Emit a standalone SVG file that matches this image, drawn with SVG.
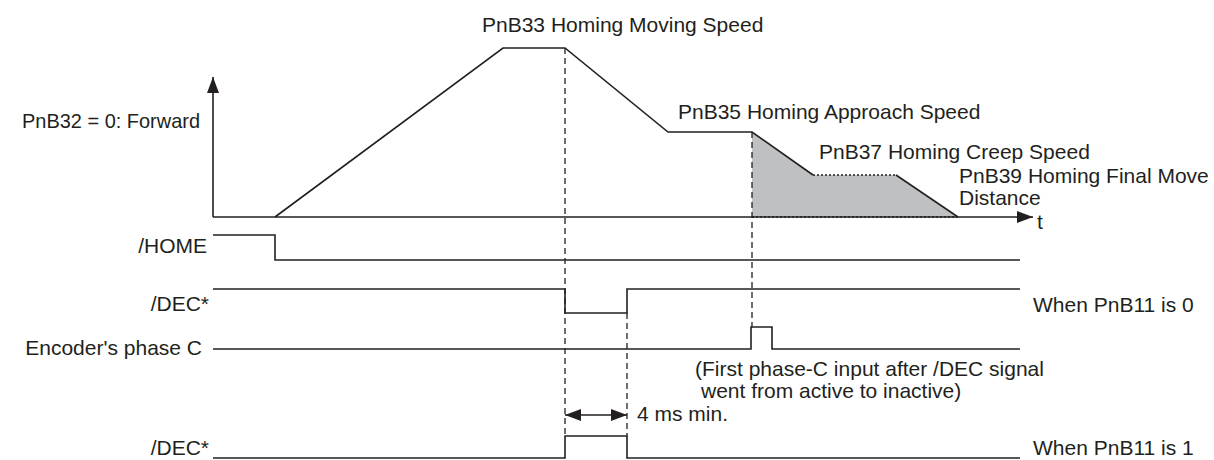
<svg xmlns="http://www.w3.org/2000/svg" width="1214" height="460" viewBox="0 0 1214 460">
<defs>
<style>
.ln{fill:none;stroke:#231f20;stroke-width:1.6}
.dash{fill:none;stroke:#231f20;stroke-width:1.3;stroke-dasharray:6 4}
.dot{fill:none;stroke:#231f20;stroke-width:1.3;stroke-dasharray:2 2}
.tx{font-family:"Liberation Sans",Arial,sans-serif;font-size:21px;fill:#231f20}
.end{text-anchor:end}
</style>
<marker id="ah" viewBox="0 0 16 12" refX="16" refY="6" markerWidth="16" markerHeight="12" markerUnits="userSpaceOnUse" orient="auto-start-reverse">
<path d="M0,0 L16,6 L0,12 Z" fill="#231f20"/>
</marker>
</defs>
<rect width="1214" height="460" fill="#ffffff"/>
<g id="speed-chart">
<polygon points="752,132 813,175 896,175 958,217 752,217" fill="#bfc0c2"/>
<path class="dot" d="M752,217 H958"/>
<path class="ln" d="M213,217 V77" marker-end="url(#ah)"/>
<path class="ln" d="M213,217 H1033" marker-end="url(#ah)"/>
<path class="ln" d="M275,217 L503,48 H565 L668,132 H752 L813,175"/>
<path class="dot" d="M813,175 H896"/>
<path class="ln" d="M896,175 L958,217"/>
</g>
<g id="signals">
<path class="ln" d="M213,235 H275 V260 H1020"/>
<path class="ln" d="M213,289 H565 V313 H627 V289 H1020"/>
<path class="ln" d="M213,349 H751 V327 H772 V349 H1020"/>
<path class="ln" d="M213,458 H565 V436 H627 V458 H1020"/>
</g>
<g id="connectors">
<path class="dash" d="M565,48 V436"/>
<path class="dash" d="M627,313 V436"/>
<path class="dash" d="M752,132 V327"/>
<path class="ln" d="M565,415 H627" marker-start="url(#ah)" marker-end="url(#ah)"/>
</g>
<g id="labels">
<text class="tx" x="482" y="32">PnB33 Homing Moving Speed</text>
<text class="tx" x="678" y="119">PnB35 Homing Approach Speed</text>
<text class="tx" x="819" y="159">PnB37 Homing Creep Speed</text>
<text class="tx" x="959" y="183">PnB39 Homing Final Move</text>
<text class="tx" x="959" y="205">Distance</text>
<text class="tx" x="1037" y="229">t</text>
<text class="tx end" x="200" y="128" textLength="178" lengthAdjust="spacingAndGlyphs">PnB32 = 0: Forward</text>
<text class="tx end" x="207" y="253">/HOME</text>
<text class="tx end" x="209" y="311">/DEC*</text>
<text class="tx end" x="202" y="355">Encoder's phase C</text>
<text class="tx end" x="209" y="455">/DEC*</text>
<text class="tx" x="695" y="376">(First phase-C input after /DEC signal</text>
<text class="tx" x="701" y="398">went from active to inactive)</text>
<text class="tx" x="637" y="421">4 ms min.</text>
<text class="tx" x="1033" y="312">When PnB11 is 0</text>
<text class="tx" x="1033" y="455">When PnB11 is 1</text>
</g>
</svg>
